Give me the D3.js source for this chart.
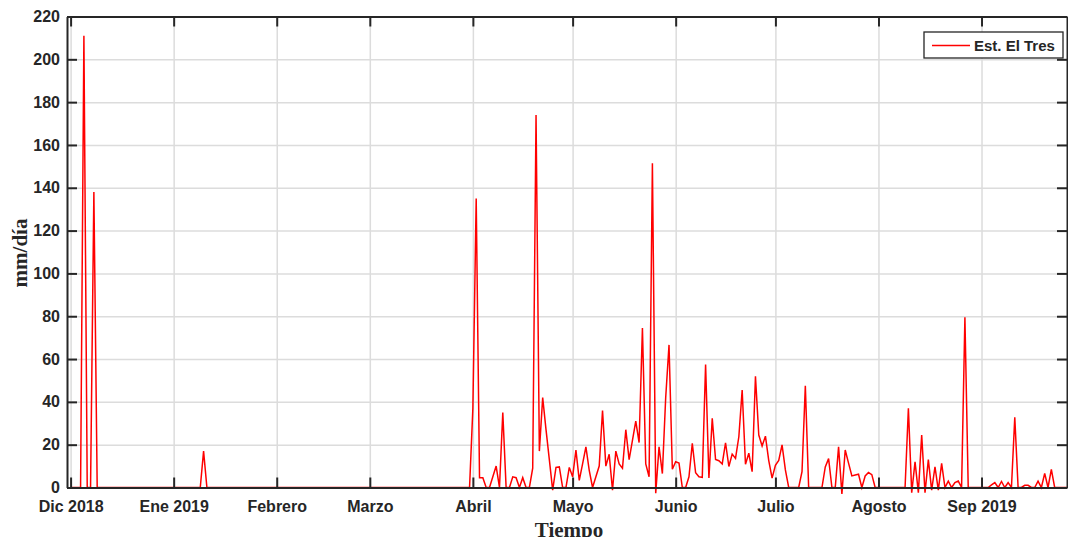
<!DOCTYPE html>
<html lang="es">
<head>
<meta charset="UTF-8">
<title>Est. El Tres</title>
<script src="https://cdn.jsdelivr.net/npm/d3@7"></script>
<style>
  body { margin: 0; background: #fff; }
</style>
</head>
<body>
<div id="box"></div>
<script>
// precipitación diaria (mm/día), un arreglo por mes, desde 1 dic 2018
const dic = [0,0,0,0,211,0,0,138,0,0, 0,0,0,0,0,0,0,0,0,0, 0,0,0,0,0,0,0,0,0,0, 0];
const ene = [0,0,0,0,0,0,0,0,0,17, 0,0,0,0,0,0,0,0,0,0, 0,0,0,0,0,0,0,0,0,0, 0];
const feb = [0,0,0,0,0,0,0,0,0,0, 0,0,0,0,0,0,0,0,0,0, 0,0,0,0,0,0,0,0];
const mar = [0,0,0,0,0,0,0,0,0,0, 0,0,0,0,0,0,0,0,0,0, 0,0,0,0,0,0,0,0,0,0, 0];
const abr = [37,135,4.6,4.6,0,0,5,10,0,35, 0,0,5,4.6,0,4.6,0,0,9,174, 17,42,27,13,-1.2,9.4,9.6,0,0,9.4];
const may = [5,17.5,3.3,11,19,8,0,5,10,36, 10,15.5,-1.3,17,11,9,27,13,22,31, 21,74.5,11,5,151.5,-2.7,19,6.5,42,66.6, 8.5];
const jun = [12,11.4,0,0,5,20.6,6.9,5,4.7,57.5, 4.4,32.3,13.1,12.5,11,20.9,9.8,15.6,13.6,23.7, 45.5,10.9,16,7.4,52,24.5,19.4,24,12.6,4.4];
const jul = [10.4,12.6,19.9,8.2,0,0,0,0,7.4,47.5, 0,0,0,0,0,9.6,13.5,0,0,19, -3,17.5,11.4,5.4,5.8,6.2,0,5.4,7,6, 0];
const ago = [0,0,0,0,0,0,0,0,0,37, -2.4,12,-2.4,24.5,-2.4,13,-1.2,9.7,-1.2,11.3, 0,3,0,2.3,3,0,79.5,0,0,0, 0];
const sep = [0,0,0,1.2,2.3,0,2.8,0,2.3,0, 32.8,0,0,1,1,0,0,3,0,6.6, 0,8.5,0,0,0,0,0];

const tickDates = [new Date(2018,11,1), new Date(2019,0,1), new Date(2019,1,1), new Date(2019,2,1),
  new Date(2019,3,1), new Date(2019,4,1), new Date(2019,5,1), new Date(2019,6,1),
  new Date(2019,7,1), new Date(2019,8,1)];
const tickLabels = ["Dic 2018","Ene 2019","Febrero","Marzo","Abril","Mayo","Junio","Julio","Agosto","Sep 2019"];
const yTicks = [0,20,40,60,80,100,120,140,160,180,200,220];

const values = [].concat(dic, ene, feb, mar, abr, may, jun, jul, ago, sep);
const data = values.map((v, i) => ({date: new Date(2018, 11, 1 + i), value: v}));

const svg = d3.select("#box").append("svg").attr("width", 1068).attr("height", 537);
const margin = {top: 16.5, left: 67};
const innerWidth = 1000;
const innerHeight = 471;
const axisColor = "#262626";

const xScale = d3.scaleTime()
  .domain([new Date(2018,10,29,22), new Date(2019,8,26,17)])
  .range([0, innerWidth]);
const yScale = d3.scaleLinear().domain([0, 220]).range([innerHeight, 0]);

const g = svg.append("g").attr("transform", `translate(${margin.left},${margin.top})`);

// rejilla
g.append("g").attr("class", "grid")
  .call(d3.axisBottom(xScale).tickValues(tickDates).tickSize(innerHeight).tickFormat(""))
  .call(s => s.select(".domain").remove())
  .call(s => s.selectAll("text").remove())
  .selectAll("line").attr("stroke", "#dcdcdc").attr("stroke-width", 1.5);
g.append("g").attr("class", "grid")
  .call(d3.axisLeft(yScale).tickValues(yTicks).tickSize(-innerWidth).tickFormat(""))
  .call(s => s.select(".domain").remove())
  .call(s => s.selectAll("text").remove())
  .selectAll("line").attr("stroke", "#dcdcdc").attr("stroke-width", 1.5);

// serie
g.append("clipPath").attr("id", "clip")
  .append("rect").attr("x", 0).attr("y", -2).attr("width", innerWidth).attr("height", innerHeight + 12);
const line = d3.line().x(d => xScale(d.date)).y(d => yScale(d.value));
g.append("path").datum(data)
  .attr("clip-path", "url(#clip)")
  .attr("fill", "none")
  .attr("stroke", "#ff0000")
  .attr("stroke-width", 1.5)
  .attr("d", line);

// ejes (marcas hacia dentro en los cuatro lados)
const xAxis = d3.axisBottom(xScale).tickValues(tickDates).tickSizeInner(-10).tickSizeOuter(0)
  .tickPadding(13).tickFormat((d, i) => tickLabels[i]);
const yAxis = d3.axisLeft(yScale).tickValues(yTicks).tickSizeInner(-10).tickSizeOuter(0).tickPadding(7);
const gx = g.append("g").attr("transform", `translate(0,${innerHeight})`).call(xAxis);
const gy = g.append("g").call(yAxis);
const gt = g.append("g").call(d3.axisTop(xScale).tickValues(tickDates).tickSizeInner(-10).tickSizeOuter(0).tickFormat(""));
const gr = g.append("g").attr("transform", `translate(${innerWidth},0)`)
  .call(d3.axisRight(yScale).tickValues(yTicks).tickSizeInner(-10).tickSizeOuter(0).tickFormat(""));
gt.selectAll("text").remove();
gr.selectAll("text").remove();

[gx, gy, gt, gr].forEach(a => {
  a.selectAll(".domain").attr("stroke", axisColor).attr("stroke-width", 2);
  a.selectAll(".tick line").attr("stroke", axisColor).attr("stroke-width", 2);
  a.selectAll(".tick text")
    .attr("fill", axisColor)
    .attr("font-family", "Liberation Sans, Arial, sans-serif")
    .attr("font-weight", "bold")
    .attr("font-size", "16px");
});

// títulos de ejes
svg.append("text").text("mm/día")
  .attr("transform", `translate(27,253) rotate(-90)`)
  .attr("text-anchor", "middle")
  .attr("font-family", "Liberation Serif, Times New Roman, serif")
  .attr("font-weight", "bold").attr("font-size", "21px").attr("fill", axisColor);
svg.append("text").text("Tiempo")
  .attr("x", margin.left + innerWidth / 2 + 2).attr("y", 536.5)
  .attr("text-anchor", "middle")
  .attr("font-family", "Liberation Serif, Times New Roman, serif")
  .attr("font-weight", "bold").attr("font-size", "21px").attr("fill", axisColor);

// leyenda
const lg = svg.append("g").attr("transform", "translate(924,32)");
lg.append("rect").attr("width", 139).attr("height", 26)
  .attr("fill", "#fff").attr("stroke", axisColor).attr("stroke-width", 1.3);
lg.append("line").attr("x1", 8).attr("x2", 46).attr("y1", 13.5).attr("y2", 13.5)
  .attr("stroke", "#ff0000").attr("stroke-width", 1.5);
lg.append("text").text("Est. El Tres").attr("x", 50).attr("y", 19)
  .attr("font-family", "Liberation Sans, Arial, sans-serif")
  .attr("font-weight", "bold").attr("font-size", "15px").attr("fill", axisColor);
</script>
</body>
</html>
